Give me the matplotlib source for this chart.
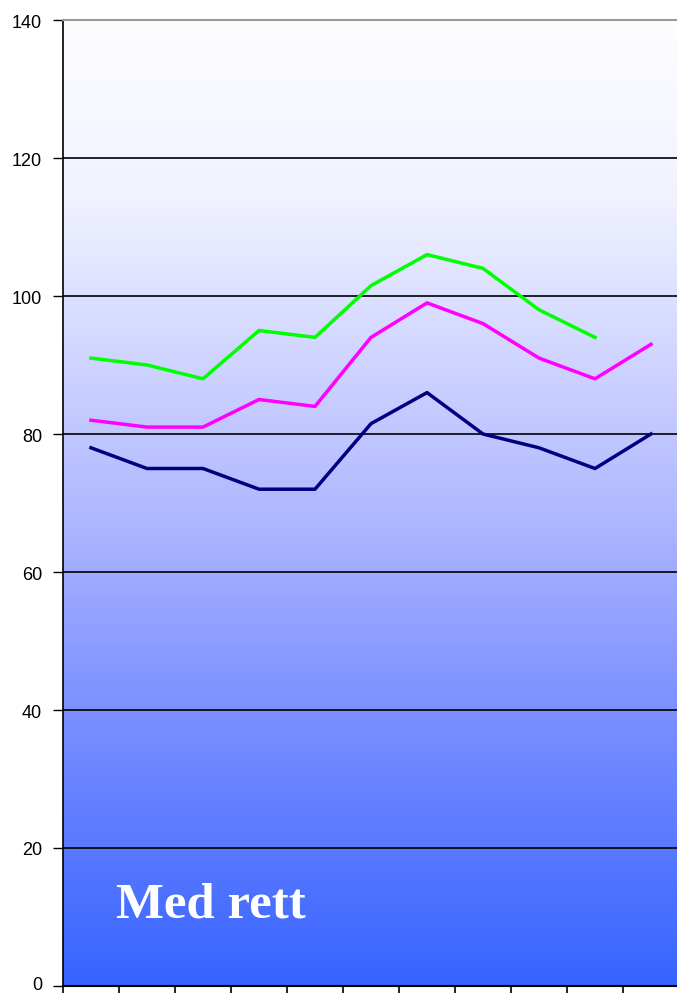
import numpy as np
import matplotlib.pyplot as plt
import matplotlib.transforms as mtransforms
from matplotlib.colors import LinearSegmentedColormap

# values, 11 points per series
x_values = np.arange(11) + 0.5
navy = [78, 75, 75, 72, 72, 81.5, 86, 80, 78, 75, 80]
magenta = [82, 81, 81, 85, 84, 94, 99, 96, 91, 88, 93]
green = [91, 90, 88, 95, 94, 101.5, 106, 104, 98, 94, np.nan]
y_ticks = [0, 20, 40, 60, 80, 100, 120, 140]

W, H = 677, 995
fig = plt.figure(figsize=(W / 100, H / 100), dpi=100)
ax = fig.add_axes([63 / W, 8 / H, 616 / W, 966 / H])

# background gradient: near white at top, blue at bottom
grad = LinearSegmentedColormap.from_list('bg', [
    (0.0, (253/255, 253/255, 1.0)),
    (0.185, (240/255, 242/255, 1.0)),
    (0.5, (178/255, 186/255, 1.0)),
    (0.65, (140/255, 155/255, 1.0)),
    (0.81, (100/255, 128/255, 1.0)),
    (1.0, (55/255, 100/255, 1.0)),
])
ax.imshow(np.linspace(0, 1, 256).reshape(-1, 1), cmap=grad, aspect='auto',
          extent=[0, 11, 0, 140], origin='upper', zorder=0)

for yv in y_ticks[1:-1]:
    ax.axhline(yv, color='black', lw=1.2, zorder=1)

ax.plot(x_values, navy, color='#000080', lw=2.5, zorder=3)
ax.plot(x_values, magenta, color='#FF00FF', lw=2.5, zorder=3)
ax.plot(x_values, green, color='#00FF00', lw=2.5, zorder=3)

ax.set_xlim(0, 11)
ax.set_ylim(0, 140)
ax.set_xticks(np.arange(12))
ax.set_xticklabels([])
ax.set_yticks(y_ticks)
ax.set_yticklabels([str(v) for v in y_ticks], fontsize=13, family='Liberation Sans')
ax.tick_params(axis='x', direction='out', length=5, width=1.2)
ax.tick_params(axis='y', direction='out', length=7, width=1, pad=8)

# nudge the bottom "0" label up a little so it stays inside the image
lbl0 = ax.get_yticklabels()[0]
lbl0.set_transform(lbl0.get_transform() +
                   mtransforms.ScaledTranslation(0, 3 / 100, fig.dpi_scale_trans))

ax.spines['left'].set_linewidth(1.2)
ax.spines['bottom'].set_linewidth(1.5)
ax.spines['top'].set_color('#999999')
ax.spines['top'].set_linewidth(1.5)
ax.spines['right'].set_visible(False)

ax.text(53 / 616 * 11, 10, 'Med rett', color='white', fontsize=36.5,
        fontweight='bold', family='Liberation Serif', zorder=4)

fig.savefig('out.png', dpi=100)
